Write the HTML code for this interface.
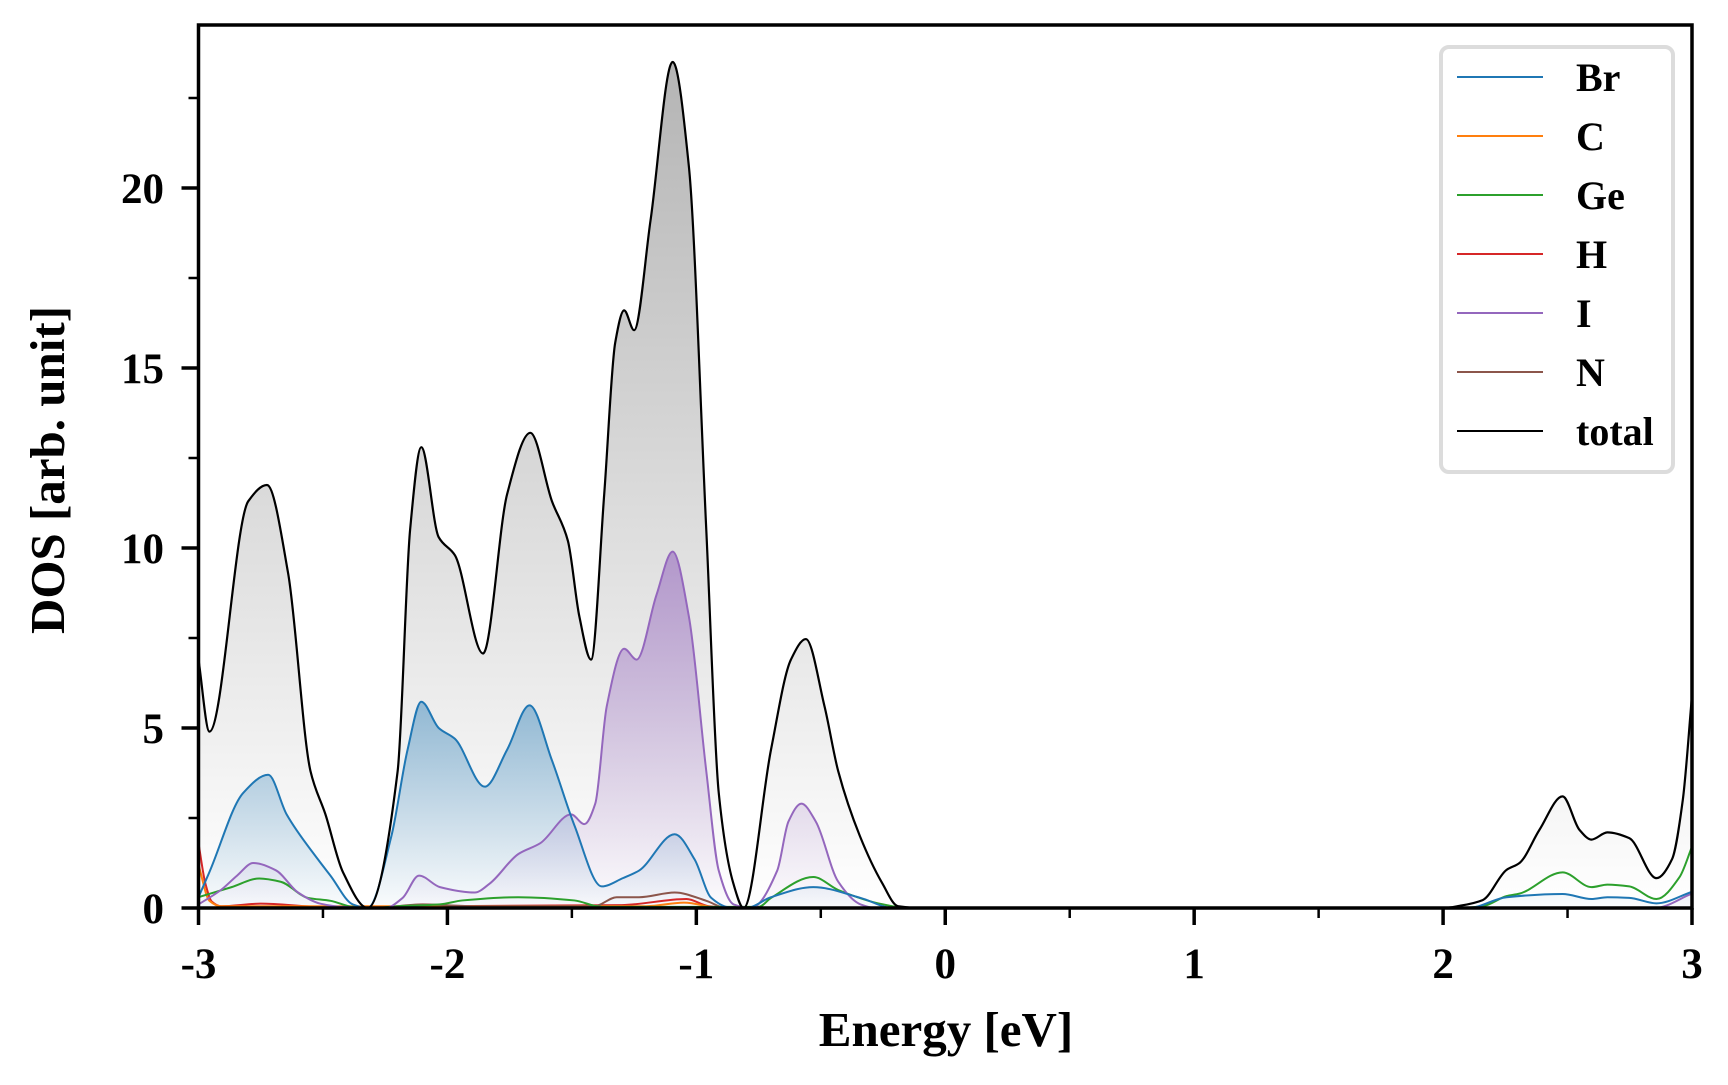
<!DOCTYPE html>
<html><head><meta charset="utf-8">
<style>
html,body{margin:0;padding:0;background:#fff;}
svg text{font-family:"Liberation Serif",serif;font-weight:bold;fill:#000;}
</style></head>
<body>
<svg id="chart" width="1728" height="1080" viewBox="0 0 1728 1080" xmlns="http://www.w3.org/2000/svg">
<defs>
<linearGradient id="gTot" gradientUnits="userSpaceOnUse" x1="0" y1="60" x2="0" y2="908">
<stop offset="0" stop-color="#b4b4b4"/><stop offset="1" stop-color="#ffffff"/></linearGradient>
<linearGradient id="gBr" gradientUnits="userSpaceOnUse" x1="0" y1="700" x2="0" y2="908">
<stop offset="0" stop-color="#1f77b4" stop-opacity="0.45"/><stop offset="1" stop-color="#1f77b4" stop-opacity="0.02"/></linearGradient>
<linearGradient id="gI" gradientUnits="userSpaceOnUse" x1="0" y1="550" x2="0" y2="908">
<stop offset="0" stop-color="#9467bd" stop-opacity="0.6"/><stop offset="1" stop-color="#9467bd" stop-opacity="0.02"/></linearGradient>
<clipPath id="clip"><rect x="198.5" y="25" width="1493.5" height="883"/></clipPath>
</defs>
<g id="marks" clip-path="url(#clip)"></g>
<g id="axes"></g>
<g id="legend"></g>
<text x="946" y="1046" font-size="49" text-anchor="middle">Energy [eV]</text>
<text transform="translate(64,470) rotate(-90)" font-size="49" text-anchor="middle">DOS [arb. unit]</text>
</svg>
<script>
const totE=[-3,-2.956,-2.8,-2.725,-2.64,-2.55,-2.49,-2.42,-2.32,-2.2,-2.15,-2.105,-2.035,-1.97,-1.857,-1.76,-1.667,-1.58,-1.516,-1.47,-1.423,-1.37,-1.326,-1.29,-1.25,-1.184,-1.095,-1.03,-0.96,-0.91,-0.852,-0.81,-0.7,-0.62,-0.56,-0.485,-0.43,-0.343,-0.254,-0.19,-0.1,1.0,2.0,2.066,2.159,2.255,2.307,2.387,2.48,2.548,2.596,2.66,2.748,2.857,2.92,2.963,3];
const totV=[6.9,4.9,11.3,11.75,9.3,3.8,2.6,1.0,0,3.8,10.5,12.8,10.3,9.8,7.07,11.5,13.2,11.3,10.2,8.1,6.9,11.5,15.7,16.6,16.05,19.1,23.5,20.6,10.5,3.2,0.7,0,4.4,6.9,7.47,5.6,3.8,2.0,0.7,0.05,0,0,0,0.06,0.22,1.06,1.25,2.17,3.1,2.17,1.9,2.1,1.94,0.83,1.36,3.0,5.9];
const brE=[-3,-2.956,-2.82,-2.72,-2.646,-2.52,-2.47,-2.38,-2.32,-2.225,-2.16,-2.105,-2.035,-1.97,-1.85,-1.76,-1.67,-1.58,-1.49,-1.38,-1.295,-1.23,-1.087,-1.007,-0.94,-0.87,-0.8,-0.7,-0.53,-0.34,-0.21,1.0,2.1,2.255,2.48,2.596,2.66,2.748,2.857,3];
const brV=[0.3,1.0,3.2,3.7,2.6,1.35,0.9,0.1,0,2.0,4.4,5.73,5.0,4.7,3.37,4.4,5.63,4.1,2.3,0.6,0.83,1.04,2.05,1.35,0.28,0.02,0,0.3,0.58,0.28,0,0,0,0.3,0.39,0.25,0.3,0.28,0.13,0.45];
const iE=[-3,-2.91,-2.845,-2.78,-2.69,-2.6,-2.51,-2.42,-2.25,-2.18,-2.114,-2.03,-1.89,-1.83,-1.715,-1.627,-1.503,-1.45,-1.406,-1.36,-1.29,-1.24,-1.16,-1.095,-1.03,-0.96,-0.91,-0.85,-0.78,-0.675,-0.63,-0.578,-0.52,-0.43,-0.34,-0.28,1.0,2.85,3];
const iV=[0.1,0.5,0.9,1.25,1.05,0.43,0.12,0.03,0,0.28,0.9,0.58,0.43,0.68,1.5,1.8,2.6,2.33,2.9,5.6,7.2,6.9,8.7,9.9,8.1,3.8,1.04,0.1,0,1.04,2.4,2.9,2.4,0.73,0.1,0,0,0,0.4];
const geE=[-3,-2.867,-2.756,-2.67,-2.56,-2.47,-2.38,-2.3,-2.2,-2.03,-1.94,-1.715,-1.49,-1.38,-0.75,-0.7,-0.53,-0.43,-0.25,-0.15,1.0,2.05,2.159,2.255,2.307,2.48,2.596,2.66,2.748,2.857,2.95,3];
const geV=[0.3,0.58,0.82,0.73,0.28,0.2,0.03,0,0.05,0.1,0.21,0.3,0.21,0.03,0.03,0.28,0.86,0.5,0.1,0,0,0,0.05,0.33,0.4,0.99,0.58,0.65,0.6,0.25,0.86,1.7];
const hE=[-3,-2.973,-2.947,-2.91,-2.75,-2.5,-1.3,-1.04,-0.95,-0.85,3];
const hV=[1.8,0.7,0.18,0.05,0.12,0.03,0.08,0.25,0.05,0,0];
const cE=[-3,-2.956,-2.91,-2.6,-1.2,-1.05,-0.9,3];
const cV=[1.2,0.2,0.05,0.05,0.05,0.15,0,0];
const nE=[-3,-2.3,-2.1,-1.9,-1.41,-1.32,-1.23,-1.087,-0.96,-0.88,3];
const nV=[0,0,0.1,0.05,0.05,0.3,0.3,0.43,0.2,0,0];
const xTicks=[-3,-2,-1,0,1,2,3];
const xTickLabels=["-3","-2","-1","0","1","2","3"];
const yTicks=[0,5,10,15,20];
const yTickLabels=["0","5","10","15","20"];
const legendNames=["Br","C","Ge","H","I","N","total"];
const legendColors=["#1f77b4","#ff7f0e","#2ca02c","#d62728","#9467bd","#8c564b","#000000"];

const L=198.5,R=1692,T=25,B=908,YMAX=(908-25)/36;
const sx=e=>L+(e+3)/6*(R-L);
const sy=v=>B-v*36;
const NS="http://www.w3.org/2000/svg";
function mk(tag,attrs,parent){const el=document.createElementNS(NS,tag);for(const k in attrs)el.setAttribute(k,attrs[k]);parent.appendChild(el);return el;}
function mono(E,V){
  const xs=E.map(sx),ys=V.map(sy),n=xs.length;
  const d=[],m=new Array(n);
  for(let i=0;i<n-1;i++)d.push((ys[i+1]-ys[i])/(xs[i+1]-xs[i]));
  m[0]=d[0];m[n-1]=d[n-2];
  for(let i=1;i<n-1;i++){ if(d[i-1]*d[i]<=0)m[i]=0; else {const w1=2*(xs[i+1]-xs[i])+(xs[i]-xs[i-1]),w2=(xs[i+1]-xs[i])+2*(xs[i]-xs[i-1]);m[i]=(w1+w2)/(w1/d[i-1]+w2/d[i]);} }
  let p="M"+xs[0].toFixed(2)+","+ys[0].toFixed(2);
  for(let i=0;i<n-1;i++){const h=xs[i+1]-xs[i];
    p+=" C"+(xs[i]+h/3).toFixed(2)+","+(ys[i]+m[i]*h/3).toFixed(2)+" "+(xs[i+1]-h/3).toFixed(2)+","+(ys[i+1]-m[i+1]*h/3).toFixed(2)+" "+xs[i+1].toFixed(2)+","+ys[i+1].toFixed(2);}
  return p;
}
const marks=document.getElementById('marks');
function fill(E,V,f,name){const p=mono(E,V)+" L"+sx(E[E.length-1])+","+B+" L"+sx(E[0])+","+B+" Z";
  const el=mk('path',{d:p,fill:f,stroke:'none'},marks);
  
  }
fill(totE,totV,'url(#gTot)','total-fill');
fill(brE,brV,'url(#gBr)','br-fill');
fill(iE,iV,'url(#gI)','i-fill');
const series=[[hE,hV,"#d62728","h-line"],[cE,cV,"#ff7f0e","c-line"],[nE,nV,"#8c564b","n-line"],[geE,geV,"#2ca02c","ge-line"],[iE,iV,"#9467bd","i-line"],[brE,brV,"#1f77b4","br-line"],[totE,totV,"#000000","total-line"]];
series.forEach(s=>{const el=mk('path',{d:mono(s[0],s[1]),fill:'none',stroke:s[2],'stroke-width':s[3]==="total-line"?2.2:2},marks);
  
  });
const axes=document.getElementById('axes');
const frame=mk('rect',{x:L,y:T,width:R-L,height:B-T,fill:'none',stroke:'#000','stroke-width':3.5},axes);


xTicks.forEach((t,i)=>{const x=sx(t);
  mk('line',{x1:x,y1:B,x2:x,y2:B+17,stroke:'#000','stroke-width':3.5},axes);
  const tx=mk('text',{x:x,y:978,'font-size':43,'text-anchor':'middle'},axes);tx.textContent=xTickLabels[i];
  
  
  if(t<3){const xm=sx(t+0.5);mk('line',{x1:xm,y1:B,x2:xm,y2:B+10,stroke:'#000','stroke-width':2.5},axes);}
});
yTicks.forEach((t,i)=>{const y=sy(t);
  mk('line',{x1:L,y1:y,x2:L-17,y2:y,stroke:'#000','stroke-width':3.5},axes);
  const tx=mk('text',{x:164,y:y+15,'font-size':43,'text-anchor':'end'},axes);tx.textContent=yTickLabels[i];
  
  
  const ym=sy(t+2.5);if(t+2.5<YMAX)mk('line',{x1:L,y1:ym,x2:L-10,y2:ym,stroke:'#000','stroke-width':2.5},axes);
});
const lg=document.getElementById('legend');
mk('rect',{x:1441,y:47,width:232,height:425,rx:8,fill:'#fff',stroke:'#dcdcdc','stroke-width':4},lg);
legendNames.forEach((n,i)=>{const y=77+i*59;
  const ln=mk('line',{x1:1457,y1:y,x2:1543,y2:y,stroke:legendColors[i],'stroke-width':2},lg);
  
  
  const tx=mk('text',{x:1576,y:y+14,'font-size':40},lg);tx.textContent=n;
  
  
});
</script>
</body></html>
